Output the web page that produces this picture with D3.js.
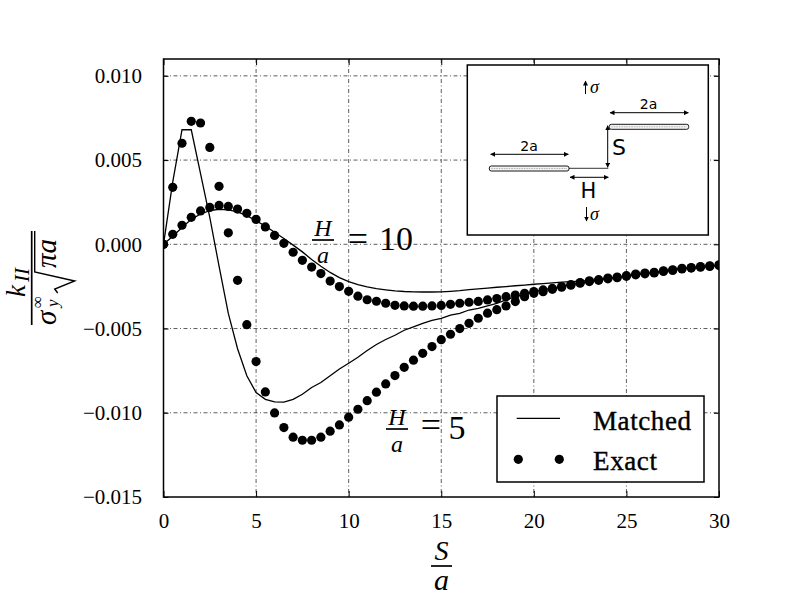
<!DOCTYPE html>
<html><head><meta charset="utf-8">
<script src="https://cdn.jsdelivr.net/npm/d3@7"></script>
<style>body{margin:0;background:#fff}svg{display:block}</style>
</head><body>
<svg id="c" width="800" height="600"></svg>
<script>
const S = [0,0.5,1,1.5,2,2.5,3,3.5,4,4.5,5,5.5,6,6.5,7,7.5,8,8.5,9,9.5,10,10.5,11,11.5,12,12.5,13,13.5,14,14.5,15,15.5,16,16.5,17,17.5,18,18.5,19,19.5,20,20.5,21,21.5,22,22.5,23,23.5,24,24.5,25,25.5,26,26.5,27,27.5,28,28.5,29,29.5,30];
const exact5 = [0,0.00338,0.00600,0.00730,0.00720,0.00575,0.00344,0.00068,-0.00214,-0.00477,-0.00696,-0.00876,-0.01001,-0.01088,-0.01145,-0.01163,-0.01163,-0.01145,-0.01109,-0.01072,-0.01026,-0.00979,-0.00928,-0.00878,-0.00829,-0.00779,-0.00730,-0.00688,-0.00647,-0.00607,-0.00566,-0.00534,-0.00500,-0.00469,-0.00439,-0.00409,-0.00388,-0.00366,-0.00340,-0.00311,-0.00291,-0.00281,-0.00267,-0.00255,-0.00243,-0.00231,-0.00221,-0.00214,-0.00205,-0.00198,-0.00190,-0.00181,-0.00175,-0.00170,-0.00161,-0.00155,-0.00146,-0.00141,-0.00136,-0.00131,-0.00126];
const exact10 = [0,0.00059,0.00113,0.00160,0.00198,0.00219,0.00231,0.00225,0.00209,0.00184,0.00148,0.00103,0.00053,0.00006,-0.00047,-0.00095,-0.00135,-0.00174,-0.00218,-0.00251,-0.00279,-0.00308,-0.00329,-0.00338,-0.00350,-0.00362,-0.00366,-0.00367,-0.00367,-0.00366,-0.00363,-0.00356,-0.00350,-0.00344,-0.00339,-0.00330,-0.00322,-0.00311,-0.00301,-0.00291,-0.00280,-0.00271,-0.00262,-0.00251,-0.00239,-0.00227,-0.00217,-0.00210,-0.00200,-0.00194,-0.00186,-0.00177,-0.00171,-0.00166,-0.00157,-0.00151,-0.00142,-0.00138,-0.00132,-0.00128,-0.00122];
const matched5 = [0,0.0037,0.0068,0.0068,0.0042,0.0016,-0.0013,-0.0041,-0.0062,-0.0078,-0.0088,-0.0092,-0.00935,-0.00937,-0.0092,-0.0089,-0.0085,-0.0082,-0.0078,-0.0074,-0.00706,-0.0067,-0.0063,-0.00595,-0.00565,-0.0054,-0.0051,-0.0049,-0.0047,-0.00452,-0.0044,-0.0042,-0.0041,-0.0039,-0.0038,-0.00365,-0.0035,-0.0033,-0.0031,-0.00295,-0.0028,-0.0027,-0.0026,-0.0025,-0.0024,-0.0023,-0.0022,-0.00213,-0.00204,-0.00197,-0.00189,-0.0018,-0.00174,-0.00169,-0.0016,-0.00154,-0.00145,-0.0014,-0.00135,-0.0013,-0.00125];
const matched10 = [0,0.00048,0.00100,0.00148,0.00180,0.00200,0.00208,0.00204,0.00192,0.00170,0.00140,0.00108,0.00072,0.00035,-0.00005,-0.00045,-0.00090,-0.00130,-0.00167,-0.00198,-0.00222,-0.00240,-0.00253,-0.00263,-0.00270,-0.00276,-0.00280,-0.00282,-0.00283,-0.00283,-0.00282,-0.00279,-0.00275,-0.00269,-0.00264,-0.00260,-0.00255,-0.00251,-0.00246,-0.00242,-0.00237,-0.00233,-0.00229,-0.00225,-0.00222,-0.00218,-0.00214,-0.00208,-0.00201,-0.00195,-0.00187,-0.00178,-0.00172,-0.00167,-0.00158,-0.00152,-0.00143,-0.00139,-0.00133,-0.00129,-0.00123];
const xTicks = [0,5,10,15,20,25,30];
const yTicks = [0.010,0.005,0.000,-0.005,-0.010,-0.015];
const legendLabels = ["Matched","Exact"];

const svg = d3.select("#c");
const L=163.5, R=719, T=59, B=497;
const x = d3.scaleLinear().domain([0,30]).range([L,R]);
const y = d3.scaleLinear().domain([-0.015,0.011]).range([B,T]);
const serif = "'Liberation Serif','DejaVu Serif',serif";
const sans = "'DejaVu Sans','Liberation Sans',sans-serif";

const defs = svg.append("defs");
defs.append("clipPath").attr("id","clip")
  .append("rect").attr("x",L).attr("y",T).attr("width",R-L).attr("height",B-T);
defs.append("marker").attr("id","ah").attr("viewBox","0 0 10 10").attr("refX",9).attr("refY",5)
  .attr("markerWidth",5).attr("markerHeight",5).attr("orient","auto-start-reverse").attr("markerUnits","userSpaceOnUse")
  .append("path").attr("d","M0,0L10,5L0,10z").attr("fill","#000");

// grid
const grid = svg.append("g").attr("stroke","#333").attr("stroke-width",0.8).attr("stroke-dasharray","4,2.5,1,2.5");
xTicks.filter(d=>d>0&&d<30).forEach(d=>grid.append("line").attr("x1",x(d)).attr("x2",x(d)).attr("y1",T).attr("y2",B));
yTicks.filter(d=>d>-0.015).forEach(d=>grid.append("line").attr("x1",L).attr("x2",R).attr("y1",y(d)).attr("y2",y(d)));

// axes (ticks inward, labels)
const xAx = d3.axisBottom(x).tickValues(xTicks).tickSize(-6).tickPadding(22).tickFormat(d3.format("d"));
const gx = svg.append("g").attr("transform",`translate(0,${B})`).call(xAx);
gx.select(".domain").remove();
gx.selectAll("text").attr("font-family",serif).attr("font-size",21).attr("fill","#000").attr("dy","0.35em").attr("y",24);
const xAxT = d3.axisTop(x).tickValues(xTicks).tickSize(-6).tickFormat("");
svg.append("g").attr("transform",`translate(0,${T})`).call(xAxT).select(".domain").remove();

const fmt = d => (d<0?"\u2212":"")+Math.abs(d).toFixed(3);
const yAx = d3.axisLeft(y).tickValues(yTicks).tickSize(-5).tickPadding(22).tickFormat(fmt);
const gyA = svg.append("g").attr("transform",`translate(${L},0)`).call(yAx);
gyA.select(".domain").remove();
gyA.selectAll("text").attr("font-family",serif).attr("font-size",21).attr("fill","#000").attr("x",-21.5);
const yAxR = d3.axisRight(y).tickValues(yTicks).tickSize(-5).tickFormat("");
svg.append("g").attr("transform",`translate(${R},0)`).call(yAxR).select(".domain").remove();
svg.selectAll(".tick line").attr("stroke","#000").attr("stroke-width",1);

// data
const plot = svg.append("g").attr("clip-path","url(#clip)");
const line = d3.line().x((d,i)=>x(S[i])).y(d=>y(d)).curve(d3.curveLinear);
[matched5, matched10].forEach(arr=>{
  plot.append("path").attr("d",line(arr)).attr("fill","none").attr("stroke","#000").attr("stroke-width",1.3);
});
[exact5, exact10].forEach(arr=>{
  plot.append("g").selectAll("circle").data(arr).join("circle")
    .attr("cx",(d,i)=>x(S[i])).attr("cy",d=>y(d)).attr("r",4.6).attr("fill","#000");
});

// frame
svg.append("rect").attr("x",L).attr("y",T).attr("width",R-L).attr("height",B-T)
  .attr("fill","none").attr("stroke","#000").attr("stroke-width",1.5);

// curve annotations
function frac(cx, barY, num, den, fs, bw){
  svg.append("text").attr("x",cx).attr("y",barY-4).attr("text-anchor","middle").attr("font-family",serif)
    .attr("font-style","italic").attr("font-size",fs).text(num);
  svg.append("line").attr("x1",cx-bw/2).attr("x2",cx+bw/2).attr("y1",barY).attr("y2",barY).attr("stroke","#000").attr("stroke-width",1.7);
  svg.append("text").attr("x",cx).attr("y",barY+23).attr("text-anchor","middle").attr("font-family",serif)
    .attr("font-style","italic").attr("font-size",fs).text(den);
}
frac(323, 240, "H", "a", 24, 22);
svg.append("text").attr("x",358).attr("y",251).attr("text-anchor","middle").attr("font-family",serif).attr("font-size",36).text("=");
svg.append("text").attr("x",396).attr("y",250).attr("text-anchor","middle").attr("font-family",serif).attr("font-size",34).text("10");
frac(397, 429, "H", "a", 24, 22);
svg.append("text").attr("x",431).attr("y",437).attr("text-anchor","middle").attr("font-family",serif).attr("font-size",36).text("=");
svg.append("text").attr("x",457).attr("y",439).attr("text-anchor","middle").attr("font-family",serif).attr("font-size",34).text("5");

// x label
svg.append("text").attr("x",441.5).attr("y",560).attr("text-anchor","middle").attr("font-family",serif).attr("font-style","italic").attr("font-size",28).text("S");
svg.append("line").attr("x1",431).attr("x2",452).attr("y1",566).attr("y2",566).attr("stroke","#000").attr("stroke-width",1.7);
svg.append("text").attr("x",441.5).attr("y",590).attr("text-anchor","middle").attr("font-family",serif).attr("font-style","italic").attr("font-size",30).text("a");

// y label
const yl = svg.append("g").attr("transform","translate(31.7,278) rotate(-90)");
yl.append("line").attr("x1",-47).attr("x2",47).attr("y1",0).attr("y2",0).attr("stroke","#000").attr("stroke-width",1.7);
yl.append("text").attr("x",-19).attr("y",-7).attr("font-family",serif).attr("font-style","italic").attr("font-size",27).text("k");
yl.append("text").attr("x",-4).attr("y",-3).attr("font-family",serif).attr("font-style","italic").attr("font-size",21).text("II");
yl.append("text").attr("x",-47).attr("y",24).attr("font-family",serif).attr("font-style","italic").attr("font-size",29).text("σ");
yl.append("text").attr("x",-30).attr("y",11).attr("font-family",serif).attr("font-size",17).text("∞");
yl.append("text").attr("x",-29).attr("y",26).attr("font-family",serif).attr("font-style","italic").attr("font-size",17).text("y");
yl.append("path").attr("d","M-15,26 L-11,23 L-3,43 L6,3 L47,3").attr("fill","none").attr("stroke","#000").attr("stroke-width",1.4);
yl.append("text").attr("x",10).attr("y",24).attr("font-family",serif).attr("font-style","italic").attr("font-size",29).text("πa");

// legend
const lg = svg.append("g");
lg.append("rect").attr("x",497).attr("y",396).attr("width",207).attr("height",86).attr("fill","#fff").attr("stroke","#000").attr("stroke-width",1.5);
lg.append("line").attr("x1",516.7).attr("x2",560).attr("y1",418.3).attr("y2",418.3).attr("stroke","#000").attr("stroke-width",1.3);
[518.3,559.3].forEach(cx=>lg.append("circle").attr("cx",cx).attr("cy",459.3).attr("r",4.6).attr("fill","#000"));
lg.append("text").attr("x",593).attr("y",430).attr("font-family",serif).attr("font-size",27).attr("stroke","#000").attr("stroke-width",0.4).attr("textLength",98).attr("lengthAdjust","spacing").text(legendLabels[0]);
lg.append("text").attr("x",593).attr("y",470).attr("font-family",serif).attr("font-size",27).attr("stroke","#000").attr("stroke-width",0.4).attr("textLength",64).attr("lengthAdjust","spacing").text(legendLabels[1]);

// inset schematic
const ins = svg.append("g");
ins.append("rect").attr("x",467.3).attr("y",65).attr("width",241).attr("height",170).attr("fill","#fff").attr("stroke","#000").attr("stroke-width",1.5);
function crack(x1,x2,cy){
  ins.append("rect").attr("x",x1).attr("y",cy-2.5).attr("width",x2-x1).attr("height",5).attr("rx",2).attr("fill","#f4f4f4").attr("stroke","#000").attr("stroke-width",0.9);
  ins.append("line").attr("x1",x1+2).attr("x2",x2-2).attr("y1",cy).attr("y2",cy).attr("stroke","#888").attr("stroke-width",0.6).attr("stroke-dasharray","1.5,1");
}
function arrow(x1,y1,x2,y2,both){
  const l = ins.append("line").attr("x1",x1).attr("y1",y1).attr("x2",x2).attr("y2",y2).attr("stroke","#000").attr("stroke-width",1).attr("marker-end","url(#ah)");
  if(both) l.attr("marker-start","url(#ah)");
}
crack(609.3,688.7,126.8);
crack(489.3,569,168.5);
ins.append("line").attr("x1",569).attr("x2",608.3).attr("y1",168.3).attr("y2",168.3).attr("stroke","#000").attr("stroke-width",0.8);
arrow(610,112.7,688.3,112.7,true);
arrow(490.7,154.3,568.3,154.3,true);
arrow(570,177.3,608.3,177.3,true);
arrow(607.7,167.3,607.7,125.7,true);
arrow(585.5,94,585.5,81,false);
arrow(586.5,207,586.5,221,false);
ins.append("text").attr("x",590).attr("y",93).attr("font-family",serif).attr("font-style","italic").attr("font-size",18).text("σ");
ins.append("text").attr("x",590).attr("y",220).attr("font-family",serif).attr("font-style","italic").attr("font-size",18).text("σ");
ins.append("text").attr("x",648.5).attr("y",108.5).attr("text-anchor","middle").attr("font-family",sans).attr("font-size",14).text("2a");
ins.append("text").attr("x",529).attr("y",151).attr("text-anchor","middle").attr("font-family",sans).attr("font-size",14).text("2a");
ins.append("text").attr("x",612).attr("y",155).attr("font-family",sans).attr("font-size",22).text("S");
ins.append("text").attr("x",588.3).attr("y",198.3).attr("text-anchor","middle").attr("font-family",sans).attr("font-size",21).text("H");
</script>
</body></html>
